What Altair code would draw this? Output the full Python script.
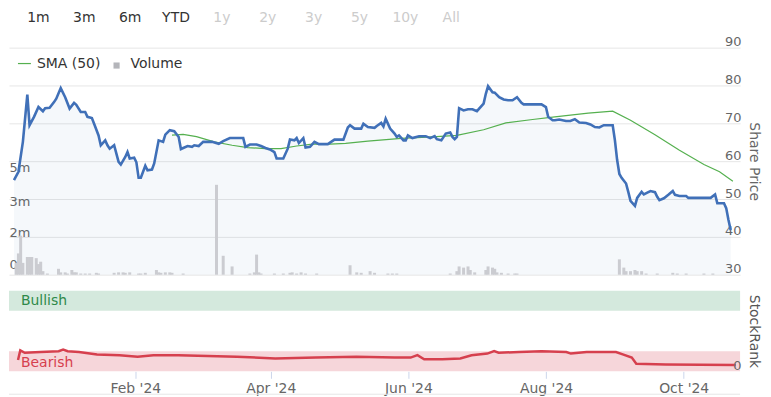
import altair as alt
import pandas as pd

# ---------------- data ----------------
price_dates = [
    "2023-12-07", "2023-12-09", "2023-12-11", "2023-12-13", "2023-12-14", "2023-12-16", "2023-12-18",
    "2023-12-20", "2023-12-21", "2023-12-23", "2023-12-25", "2023-12-26", "2023-12-28", "2023-12-30",
    "2024-01-01", "2024-01-03", "2024-01-04", "2024-01-06", "2024-01-08", "2024-01-09", "2024-01-11",
    "2024-01-12", "2024-01-14", "2024-01-15", "2024-01-17", "2024-01-18", "2024-01-19", "2024-01-21",
    "2024-01-23", "2024-01-24", "2024-01-26", "2024-01-27", "2024-01-28", "2024-01-30", "2024-01-31",
    "2024-02-01", "2024-02-02", "2024-02-04", "2024-02-05", "2024-02-07", "2024-02-08", "2024-02-10",
    "2024-02-12", "2024-02-13", "2024-02-15", "2024-02-17", "2024-02-19", "2024-02-20", "2024-02-23",
    "2024-02-25", "2024-02-26", "2024-02-28", "2024-03-01", "2024-03-03", "2024-03-05", "2024-03-08",
    "2024-03-10", "2024-03-13", "2024-03-17", "2024-03-19", "2024-03-20", "2024-03-22", "2024-03-25",
    "2024-03-27", "2024-03-29", "2024-03-31", "2024-04-02", "2024-04-03", "2024-04-06", "2024-04-08",
    "2024-04-09", "2024-04-11", "2024-04-12", "2024-04-13", "2024-04-15", "2024-04-16", "2024-04-18",
    "2024-04-20", "2024-04-22", "2024-04-26", "2024-04-29", "2024-05-03", "2024-05-05", "2024-05-06",
    "2024-05-08", "2024-05-11", "2024-05-12", "2024-05-14", "2024-05-17", "2024-05-18", "2024-05-20",
    "2024-05-21", "2024-05-22", "2024-05-24", "2024-05-26", "2024-05-27", "2024-05-28", "2024-05-30",
    "2024-05-31", "2024-06-01", "2024-06-03", "2024-06-06", "2024-06-09", "2024-06-11", "2024-06-13",
    "2024-06-14", "2024-06-16", "2024-06-18", "2024-06-20", "2024-06-21", "2024-06-22", "2024-06-23",
    "2024-06-24", "2024-06-26", "2024-06-28", "2024-06-30", "2024-07-02", "2024-07-05", "2024-07-06",
    "2024-07-07", "2024-07-09", "2024-07-10", "2024-07-12", "2024-07-14", "2024-07-16", "2024-07-18",
    "2024-07-20", "2024-07-22", "2024-07-23", "2024-07-26", "2024-07-31", "2024-08-02", "2024-08-03",
    "2024-08-05", "2024-08-06", "2024-08-08", "2024-08-11", "2024-08-13", "2024-08-15", "2024-08-17",
    "2024-08-20", "2024-08-22", "2024-08-24", "2024-08-26", "2024-08-28", "2024-09-01", "2024-09-02",
    "2024-09-03", "2024-09-04", "2024-09-05", "2024-09-07", "2024-09-08", "2024-09-09", "2024-09-11",
    "2024-09-12", "2024-09-14", "2024-09-15", "2024-09-17", "2024-09-18", "2024-09-20", "2024-09-21",
    "2024-09-22", "2024-09-24", "2024-09-26", "2024-09-28", "2024-09-29", "2024-10-01", "2024-10-04",
    "2024-10-05", "2024-10-10", "2024-10-15", "2024-10-17", "2024-10-18", "2024-10-21", "2024-10-22",
    "2024-10-23", "2024-10-24",
]
price_values = [
    55.0, 57.2, 65.1, 77.6, 69.5, 71.7, 74.3,
    73.2, 74.0, 74.1, 75.6, 76.5, 79.3, 76.9,
    73.9, 75.4, 74.9, 73.0, 73.0, 71.7, 71.4,
    69.9, 66.8, 64.2, 65.5, 64.2, 63.3, 64.2,
    59.8, 59.1, 61.1, 62.4, 60.7, 60.9, 59.7,
    55.6, 55.6, 58.8, 57.6, 57.8, 59.4, 65.5,
    65.1, 67.0, 68.2, 67.9, 66.4, 63.2, 64.0,
    63.8, 64.2, 64.0, 65.1, 65.1, 65.1, 64.6,
    65.3, 66.1, 66.1, 66.1, 63.8, 64.4, 64.4,
    64.0, 63.5, 63.1, 62.4, 60.7, 60.7, 63.3,
    65.7, 65.5, 66.1, 64.8, 66.1, 63.6, 63.8,
    65.1, 64.5, 64.5, 65.7, 65.7, 68.9, 69.5,
    68.6, 68.6, 69.9, 69.0, 68.8, 69.3, 70.1,
    69.2, 71.2, 68.6, 67.3, 66.4, 66.8, 65.5,
    65.5, 66.8, 66.1, 66.6, 66.6, 66.1, 66.6,
    65.8, 65.5, 67.3, 67.6, 66.4, 65.8, 66.4,
    74.0, 73.4, 73.7, 73.7, 73.2, 75.2, 77.8,
    79.8, 78.2, 78.1, 76.9, 76.3, 76.1, 76.1,
    76.9, 75.4, 75.0, 75.0, 75.0, 74.3, 71.7,
    70.8, 70.8, 71.0, 70.6, 70.6, 71.1, 70.2,
    70.1, 69.7, 69.0, 68.9, 69.5, 69.5, 65.5,
    60.3, 56.6, 55.6, 54.1, 51.9, 49.5, 48.2,
    50.3, 51.9, 51.2, 51.8, 52.1, 51.8, 50.6,
    49.7, 50.2, 51.1, 52.1, 51.1, 50.8, 50.8,
    50.3, 50.3, 50.3, 51.2, 48.9, 48.9, 47.6,
    44.5, 41.8,
]

sma_dates = [
    "2024-02-16", "2024-02-21", "2024-02-27", "2024-03-06", "2024-03-14", "2024-03-21", "2024-03-29",
    "2024-04-05", "2024-04-12", "2024-04-19", "2024-04-27", "2024-05-04", "2024-05-14", "2024-05-29",
    "2024-06-12", "2024-06-23", "2024-07-05", "2024-07-15", "2024-07-27", "2024-08-06", "2024-08-21",
    "2024-09-01", "2024-09-09", "2024-09-20", "2024-10-01", "2024-10-12", "2024-10-19", "2024-10-25",
]
sma_values = [
    66.9, 67.1, 66.5, 65.1, 64.2, 63.6, 63.3,
    63.3, 64.0, 64.5, 64.5, 64.7, 65.3, 66.0,
    66.4, 66.8, 68.3, 70.1, 71.0, 71.7, 72.7,
    73.2, 70.8, 67.0, 62.9, 59.1, 57.2, 54.7,
]

volume_dates = [
    "2023-12-08", "2023-12-09", "2023-12-10", "2023-12-11", "2023-12-13", "2023-12-14", "2023-12-15",
    "2023-12-17", "2023-12-18", "2023-12-19", "2023-12-20", "2023-12-22", "2023-12-27", "2023-12-28",
    "2023-12-30", "2023-12-31", "2024-01-02", "2024-01-03", "2024-01-04", "2024-01-06", "2024-01-08",
    "2024-01-10", "2024-01-13", "2024-01-14", "2024-01-21", "2024-01-23", "2024-01-25", "2024-01-26",
    "2024-01-28", "2024-02-01", "2024-02-02", "2024-02-04", "2024-02-09", "2024-02-10", "2024-02-11",
    "2024-02-13", "2024-02-15", "2024-02-16", "2024-02-21", "2024-03-07", "2024-03-10", "2024-03-14",
    "2024-03-22", "2024-03-24", "2024-03-25", "2024-03-26", "2024-03-27", "2024-04-02", "2024-04-06",
    "2024-04-09", "2024-04-10", "2024-04-12", "2024-04-14", "2024-04-16", "2024-04-21", "2024-05-06",
    "2024-05-09", "2024-05-11", "2024-05-15", "2024-05-17", "2024-05-23", "2024-05-25", "2024-05-27",
    "2024-06-20", "2024-06-23", "2024-06-24", "2024-06-26", "2024-06-28", "2024-06-29", "2024-07-01",
    "2024-07-06", "2024-07-07", "2024-07-09", "2024-07-10", "2024-07-11", "2024-07-13", "2024-07-16",
    "2024-07-19", "2024-07-20", "2024-09-04", "2024-09-06", "2024-09-07", "2024-09-09", "2024-09-11",
    "2024-09-12", "2024-09-14", "2024-09-16", "2024-09-21", "2024-09-28", "2024-09-30", "2024-10-04",
    "2024-10-12", "2024-10-16",
]
volume_millions = [
    0.5, 0.9, 1.65, 0.5, 0.75, 0.75, 0.75,
    0.7, 0.45, 0.55, 0.15, 0.05, 0.25, 0.1,
    0.1, 0.05, 0.2, 0.1, 0.1, 0.05, 0.05,
    0.05, 0.08, 0.05, 0.08, 0.1, 0.1, 0.08,
    0.1, 0.05, 0.05, 0.08, 0.2, 0.1, 0.08,
    0.1, 0.1, 0.08, 0.05, 3.8, 0.8, 0.35,
    0.05, 0.1, 0.85, 0.1, 0.05, 0.05, 0.05,
    0.08, 0.1, 0.05, 0.1, 0.05, 0.05, 0.4,
    0.1, 0.08, 0.15, 0.08, 0.05, 0.05, 0.05,
    0.05, 0.15, 0.35, 0.3, 0.35, 0.2, 0.1,
    0.2, 0.35, 0.3, 0.25, 0.1, 0.08, 0.05,
    0.05, 0.05, 0.65, 0.3, 0.15, 0.15, 0.2,
    0.15, 0.15, 0.05, 0.05, 0.08, 0.05, 0.05,
    0.05, 0.05,
]

rank_dates = [
    "2023-12-11", "2023-12-12", "2023-12-14", "2023-12-21", "2023-12-29", "2023-12-31", "2024-01-02",
    "2024-01-07", "2024-01-15", "2024-01-25", "2024-02-02", "2024-02-09", "2024-02-20", "2024-03-04",
    "2024-03-17", "2024-04-03", "2024-04-21", "2024-05-09", "2024-05-26", "2024-06-02", "2024-06-05",
    "2024-06-08", "2024-06-16", "2024-06-24", "2024-06-29", "2024-07-06", "2024-07-09", "2024-07-11",
    "2024-07-20", "2024-07-30", "2024-08-10", "2024-08-12", "2024-08-19", "2024-09-01", "2024-09-04",
    "2024-09-08", "2024-09-10", "2024-09-23", "2024-10-24",
]
rank_values = [
    14, 26, 23, 24, 25, 27, 25,
    24, 21, 20, 18, 20, 20, 19,
    18, 16, 17, 18, 17, 17, 20,
    15, 15, 16, 20, 22, 25, 23,
    24, 25, 24, 22, 24, 24, 21,
    17, 9.5, 8.6, 7.8,
]

x_tick_dates = ["2024-02-01", "2024-04-01", "2024-06-01", "2024-08-01", "2024-10-01"]
x_domain = ["2023-12-07", "2024-10-26"]
price_ticks = [30, 40, 50, 60, 70, 80, 90]
volume_ticks_millions = [0, 1.6, 3.2, 4.8]
volume_max_millions = 9.6
rank_ticks = [0]
range_buttons = ["1m", "3m", "6m", "YTD", "1y", "2y", "3y", "5y", "10y", "All"]
range_state = ["on", "on", "on", "on", "off", "off", "off", "off", "off", "off"]
legend_labels = ["SMA (50)", "Volume"]
band_names = ["Bullish", "Bearish"]
band_low = [75, 0]
band_high = [100, 25]

# ---------------- styling ----------------
FONT = "DejaVu Sans"
W = 734
H_TOP = 228
H_BOT = 81
BLUE = "#4070b8"
GREEN = "#55b04f"
RED = "#d6404e"
GREY_TXT = "#666666"
TITLE_X = 13


def dt(s):
    t = pd.Timestamp(s)
    return alt.DateTime(year=t.year, month=t.month, date=t.day, utc=True)


price_df = pd.DataFrame({"date": price_dates, "price": price_values})
sma_df = pd.DataFrame({"date": sma_dates, "sma": sma_values})
vol_df = pd.DataFrame({"date": volume_dates, "volume": [v * 1e6 for v in volume_millions]})
rank_df = pd.DataFrame({"date": rank_dates, "rank": rank_values})
band_df = pd.DataFrame({"name": band_names, "low": band_low, "high": band_high})
btn_df = pd.DataFrame({"label": range_buttons, "state": range_state})

x_scale = alt.Scale(type="utc", domain=[dt(x_domain[0]), dt(x_domain[1])])
x_top = alt.X("date:T", scale=x_scale, axis=None)

price_scale = alt.Scale(domain=[price_ticks[0], price_ticks[-1]], zero=False, nice=False)
price_axis = alt.Axis(
    orient="right", values=price_ticks, grid=True, gridColor="#e6e6e6", gridWidth=1,
    domain=False, ticks=False, tickSize=0, labelAlign="right", labelBaseline="alphabetic",
    labelOffset=-2, labelPadding=1, labelFont=FONT, labelFontSize=13, labelColor=GREY_TXT,
    title="Share Price", titleAngle=90, titleX=TITLE_X, titleY=H_TOP / 2, titleAlign="center",
    titleBaseline="middle", titleFont=FONT, titleFontSize=14, titleFontWeight="normal",
    titleColor=GREY_TXT,
)

vol_scale = alt.Scale(domain=[0, volume_max_millions * 1e6], nice=False)
vol_axis = alt.Axis(
    orient="left", values=[v * 1e6 for v in volume_ticks_millions],
    labelExpr="datum.value == 0 ? '0' : format(datum.value / 1e6, '.0f') + 'm'",
    grid=False, domain=False, ticks=False, tickSize=0, labelAlign="left", labelPadding=0,
    labelBaseline="middle",
    labelOffset={
        "condition": [
            {"test": "datum.value == 0", "value": -10},
            {"test": "datum.value < 2000000", "value": -4},
            {"test": "datum.value < 4000000", "value": 3},
        ],
        "value": 6,
    },
    labelFont=FONT, labelFontSize=13, labelColor=GREY_TXT, title=None,
)

area = alt.Chart(price_df).mark_area(color=BLUE, opacity=0.05).encode(
    x=x_top,
    y=alt.Y("price:Q", scale=price_scale, axis=price_axis),
    y2=alt.datum(price_ticks[0]),
)

volume = alt.Chart(vol_df).mark_bar(color="#cbccd1", size=3).encode(
    x=x_top,
    y=alt.Y("volume:Q", scale=vol_scale, axis=vol_axis),
)

sma_line = alt.Chart(sma_df).mark_line(color=GREEN, strokeWidth=1.2).encode(
    x=x_top, y=alt.Y("sma:Q", scale=price_scale, axis=None)
)
price_line = alt.Chart(price_df).mark_line(color=BLUE, strokeWidth=2.6).encode(
    x=x_top, y=alt.Y("price:Q", scale=price_scale, axis=None)
)
lines = alt.layer(sma_line, price_line)

leg_sma_df = pd.DataFrame({"label": [legend_labels[0]]})
leg_vol_df = pd.DataFrame({"label": [legend_labels[1]]})
leg_line = alt.Chart(leg_sma_df).mark_rule(color=GREEN, strokeWidth=1.2).encode(
    x=alt.value(9), x2=alt.value(22), y=alt.value(16)
)
leg_sma_text = alt.Chart(leg_sma_df).mark_text(
    align="left", baseline="middle", font=FONT, fontSize=14, color="#333333"
).encode(x=alt.value(28), y=alt.value(16), text="label:N")
leg_square = alt.Chart(leg_vol_df).mark_square(color="#b4b5ba", size=38, opacity=1).encode(
    x=alt.value(108), y=alt.value(18)
)
leg_vol_text = alt.Chart(leg_vol_df).mark_text(
    align="left", baseline="middle", font=FONT, fontSize=14, color="#333333"
).encode(x=alt.value(122), y=alt.value(16), text="label:N")

top = alt.layer(
    area, volume, lines, leg_line, leg_sma_text, leg_square, leg_vol_text
).resolve_scale(y="independent").properties(width=W, height=H_TOP)

# ---------------- StockRank panel ----------------
rank_scale = alt.Scale(domain=[0, 100], nice=False)
rank_axis = alt.Axis(
    orient="right", values=rank_ticks, grid=False, domain=False, ticks=False, tickSize=0,
    labelAlign="right", labelBaseline="alphabetic", labelOffset=-2, labelPadding=1,
    labelFont=FONT, labelFontSize=13, labelColor=GREY_TXT, zindex=2,
    title="StockRank", titleAngle=90, titleX=TITLE_X, titleY=H_BOT / 2, titleAlign="center",
    titleBaseline="middle", titleFont=FONT, titleFontSize=14, titleFontWeight="normal",
    titleColor="#555555",
)
x_axis = alt.Axis(
    values=[dt(d) for d in x_tick_dates],
    labelExpr="utcFormat(datum.value, '%b') + ' \\'' + utcFormat(datum.value, '%y')",
    labelFont=FONT, labelFontSize=14, labelColor=GREY_TXT, labelFlush=False,
    tickColor="#ccd6eb", tickSize=7, tickWidth=1, labelPadding=3,
    domain=False, grid=False, title=None,
)

bands = alt.Chart(band_df).mark_rect().encode(
    x=alt.value(0), x2=alt.value(W),
    y=alt.Y("low:Q", scale=rank_scale, axis=rank_axis),
    y2="high:Q",
    color=alt.Color("name:N", scale=alt.Scale(domain=band_names, range=["#d4e9dd", "#f6d6da"]), legend=None),
)
bull_text = alt.Chart(band_df).transform_filter(alt.datum.name == band_names[0]).mark_text(
    align="left", baseline="middle", font=FONT, fontSize=14, color="#2f8a4a"
).encode(x=alt.value(12), y=alt.value(10), text="name:N")
bear_text = alt.Chart(band_df).transform_filter(alt.datum.name == band_names[1]).mark_text(
    align="left", baseline="middle", font=FONT, fontSize=14, color=RED
).encode(x=alt.value(12), y=alt.value(73), text="name:N")
rank_line = alt.Chart(rank_df).mark_line(color=RED, strokeWidth=2.5).encode(
    x=alt.X("date:T", scale=x_scale, axis=x_axis),
    y=alt.Y("rank:Q", scale=rank_scale, axis=rank_axis),
)
bottom_rule = alt.Chart(band_df.head(1)).mark_rule(color="#e6e6e6", strokeWidth=1).encode(
    x=alt.value(0), x2=alt.value(W), y=alt.value(104)
)
bottom = alt.layer(bands, bull_text, bear_text, rank_line, bottom_rule).properties(width=W, height=H_BOT)

# ---------------- range selector ----------------
buttons = alt.Chart(btn_df).mark_text(font=FONT, fontSize=14, baseline="middle").encode(
    x=alt.X("label:N", sort=range_buttons,
            scale=alt.Scale(type="point", domain=range_buttons, range=[29.5, 444], padding=0),
            axis=None),
    y=alt.value(9),
    text="label:N",
    color=alt.Color("state:N", scale=alt.Scale(domain=["on", "off"], range=["#333333", "#cccccc"]), legend=None),
).properties(width=W, height=23)

chart = (
    alt.vconcat(buttons, top, bottom, spacing=16, bounds="flush")
    .resolve_scale(color="independent")
    .properties(padding={"left": 0, "top": 0, "right": 3, "bottom": 0})
    .configure(font=FONT)
    .configure_view(strokeWidth=0, stroke=None)
)

chart.save("out.html", embed_options={"renderer": "svg", "actions": False})
